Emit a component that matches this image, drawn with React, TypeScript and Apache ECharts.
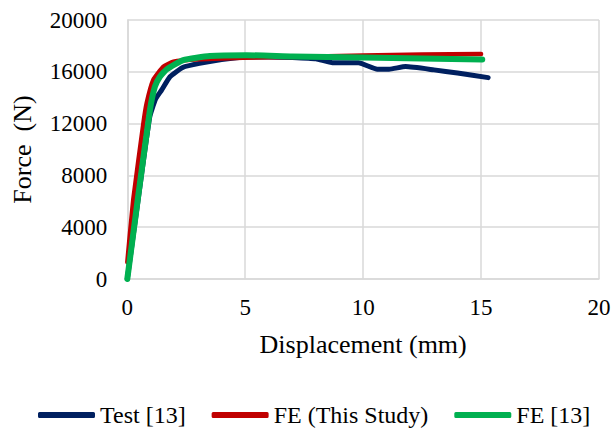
import React, { useEffect, useRef } from "react";
import * as echarts from "echarts";

const testX = [0, 0.45, 0.95, 1.2, 1.46, 1.81, 2.37, 3.06, 4, 5, 6, 7, 8, 8.7, 9.8, 10.6, 11.1, 11.8, 13, 14, 15.3];
const testY = [0, 6000, 12500, 13900, 14600, 15620, 16350, 16650, 16950, 17150, 17150, 17100, 17000, 16700, 16700, 16200, 16200, 16400, 16150, 15900, 15550];

const feX = [0, 0.25, 0.68, 0.82, 1.1, 1.53, 1.95, 3.08, 4.9, 7, 10, 12.5, 15];
const feY = [1300, 6100, 12000, 13570, 15370, 16390, 16780, 16960, 17080, 17150, 17250, 17330, 17380];

const ref13X = [0, 0.44, 0.96, 1.17, 1.38, 1.67, 2.37, 3.5, 5.06, 7, 10, 15.05];
const ref13Y = [0, 6100, 13050, 14850, 15620, 16190, 16910, 17220, 17280, 17180, 17100, 16950];

const xTicks = { min: 0, max: 20, interval: 5 };
const yTicks = { min: 0, max: 20000, interval: 4000 };

const seriesNames = ["Test [13]", "FE (This Study)", "FE [13]"];
const seriesColors = ["#002060", "#c00000", "#00b050"];

const zip = (xs: number[], ys: number[]) => xs.map((x, i) => [x, ys[i]]);

export default function App() {
  const ref = useRef<HTMLDivElement>(null);
  useEffect(() => {
    if (!ref.current) return;
    const chart = echarts.init(ref.current, null, { renderer: "svg" });
    const font = "Liberation Serif";
    const gridColor = "#d9d9d9";
    const datasets = [zip(testX, testY), zip(feX, feY), zip(ref13X, ref13Y)];
    const widths = [5, 4.5, 6];
    const rich = { t: { fontFamily: font, fontSize: 23, color: "#000" } };
    const legendRich = { t: { fontFamily: font, fontSize: 24, color: "#000" } };
    chart.setOption({
      animation: false,
      textStyle: { fontFamily: font, color: "#000" },
      grid: { left: 127.3, right: 16, top: 20, bottom: 150, containLabel: false },
      xAxis: {
        type: "value",
        ...xTicks,
        name: "Displacement (mm)",
        nameLocation: "middle",
        nameGap: 52,
        nameTextStyle: { fontFamily: font, fontSize: 26, color: "#000" },
        axisLine: { show: true, lineStyle: { color: gridColor, width: 1.5 } },
        axisTick: { show: false },
        axisLabel: {
          fontFamily: font,
          fontSize: 23,
          color: "#000",
          margin: 17,
          formatter: (v: number) => `{t|${v}}`,
          rich,
        },
        splitLine: { show: true, lineStyle: { color: gridColor, width: 1.5 } },
      },
      yAxis: {
        type: "value",
        ...yTicks,
        name: "Force  (N)",
        nameLocation: "middle",
        nameGap: 92,
        nameTextStyle: { fontFamily: font, fontSize: 26, color: "#000" },
        axisLine: { show: true, lineStyle: { color: gridColor, width: 1.5 } },
        axisTick: { show: false },
        axisLabel: {
          fontFamily: font,
          fontSize: 23,
          color: "#000",
          margin: 20,
          formatter: (v: number) => `{t|${v}}`,
          rich,
        },
        splitLine: { show: true, lineStyle: { color: gridColor, width: 1.5 } },
      },
      legend: {
        left: 33,
        top: 398,
        itemWidth: 57,
        itemHeight: 6,
        itemGap: 26,
        formatter: (n: string) => `{t|${n}}`,
        textStyle: { fontFamily: font, fontSize: 24, color: "#000", rich: legendRich },
        data: seriesNames.map((n) => ({ name: n, icon: "roundRect" })),
      },
      series: datasets.map((d, i) => ({
        type: "line",
        name: seriesNames[i],
        data: d,
        showSymbol: false,
        symbol: "none",
        smooth: 0.15,
        color: seriesColors[i],
        lineStyle: { color: seriesColors[i], width: widths[i], cap: "round", join: "round" },
      })),
    });
    return () => chart.dispose();
  }, []);
  return (
    <div
      ref={ref}
      style={{ position: "fixed", left: 0, top: 0, width: 615, height: 429, background: "#fff" }}
    />
  );
}
